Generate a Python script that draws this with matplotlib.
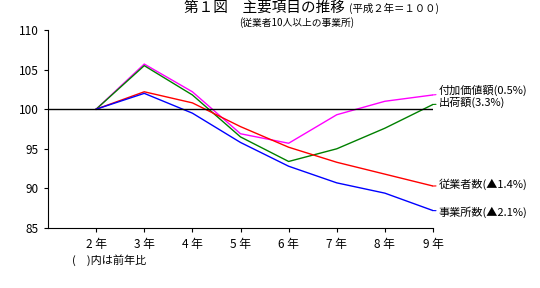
import matplotlib
matplotlib.use('Agg')
import matplotlib.pyplot as plt
import numpy as np

plt.rcParams['font.family'] = ['Noto Sans CJK JP', 'DejaVu Sans']

years = ['2 年', '3 年', '4 年', '5 年', '6 年', '7 年', '8 年', '9 年']
fuka = [100, 105.7, 102.2, 96.9, 95.7, 99.3, 101.0, 101.8]     # 付加価値額
shukka = [100, 105.5, 101.8, 96.5, 93.4, 95.0, 97.6, 100.6]   # 出荷額
jugyo = [100, 102.2, 100.8, 97.8, 95.2, 93.3, 91.8, 90.3]     # 従業者数
jigyo = [100, 102.0, 99.5, 95.8, 92.8, 90.7, 89.4, 87.2]      # 事業所数

labels = ['付加価値額(0.5%)', '出荷額(3.3%)', '従業者数(▲1.4%)', '事業所数(▲2.1%)']
colors = ['#ff00ff', '#008000', '#ff0000', '#0000ff']
label_y = [102.4, 100.8, 90.5, 87.0]

fig = plt.figure(figsize=(5.4, 2.88), dpi=100)
ax = fig.add_axes([48/540, 1 - 228/288, (433-48)/540, (228-30)/288])

x = np.arange(2, 10)
for vals, c in zip([fuka, shukka, jugyo, jigyo], colors):
    ax.plot(x, vals, color=c, lw=1)

ax.axhline(100, color='black', lw=1)

ax.set_xlim(1, 9)
ax.set_ylim(85, 110)
ax.set_yticks([85, 90, 95, 100, 105, 110])
ax.set_xticks(x)
ax.set_xticklabels(years)
ax.spines['top'].set_visible(False)
ax.spines['right'].set_visible(False)
ax.tick_params(axis='both', labelsize=8.5, direction='out', length=3)
ax.tick_params(axis='x', pad=4)

for vals, lab, c, ly in zip([fuka, shukka, jugyo, jigyo], labels, colors, label_y):
    ax.annotate(lab, xy=(9, vals[-1]), xytext=(9.12, ly),
                fontsize=8, va='center', ha='left', annotation_clip=False,
                arrowprops=dict(arrowstyle='-', color=c, lw=0.8,
                                shrinkA=0, shrinkB=0))

fig.text(345/540, 1 - 8/288, '第１図　主要項目の推移', fontsize=10.5, ha='right', va='center')
fig.text(349/540, 1 - 8/288, '(平成２年＝１００)', fontsize=7.5, ha='left', va='center')
fig.text(297/540, 1 - 22.5/288, '(従業者10人以上の事業所)', fontsize=7, ha='center', va='center')
fig.text(72/540, 1 - 260/288, '(　)内は前年比', fontsize=8, ha='left', va='center')

fig.savefig('out.png', dpi=100)
